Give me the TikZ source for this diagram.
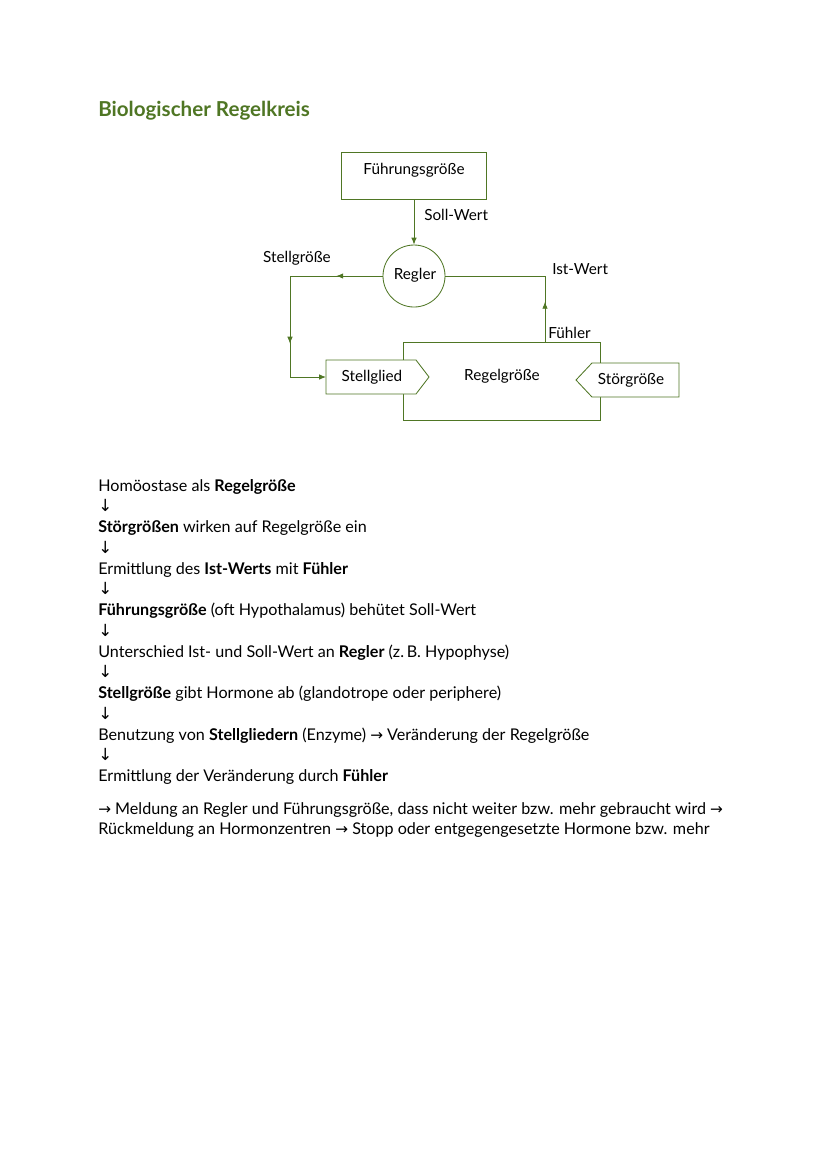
\documentclass[tikz,border=0pt]{standalone}
\usepackage{fontspec}
\setmainfont{Lato}
\newfontfamily\symfont{DejaVu Sans}
\usetikzlibrary{arrows.meta}
\usetikzlibrary{decorations.markings}
\definecolor{moosgruen}{RGB}{79,118,36}
\newcommand{\pxl}{0.71894pt}
\newcommand{\runter}{{\symfont\fontsize{12}{14}\selectfont ↓}}
\newcommand{\nach}{{\symfont\fontsize{11}{13}\selectfont →}}
\tikzset{
  line/.style={draw=moosgruen, line width=0.6pt},
  pfeil/.style={line, -{Latex[length=5pt,width=4pt]}, color=moosgruen},
  midpfeil/.style={line, color=moosgruen, postaction={decorate},
    decoration={markings, mark=at position #1 with {\arrow{Latex[length=5pt,width=4pt]}}}},
  kasten/.style={line, fill=white, inner sep=0pt},
  beschr/.style={inner sep=0pt, font=\fontsize{11}{13}\selectfont},
  zeile/.style={anchor=base west, inner sep=0pt, font=\fontsize{11.6}{14}\selectfont}
}
\begin{document}
\begin{tikzpicture}[x=\pxl, y=-\pxl]
  \useasboundingbox (0,0) rectangle (828,1171);
  % Titel
  \node[anchor=base west, inner sep=0pt, text=moosgruen,
    font=\fontsize{14.8}{17}\selectfont\bfseries] (titel) at (98,116)
    {Biologischer Regelkreis};

  % Kaesten
  \node[kasten, draw, minimum width=145*\pxl, minimum height=47*\pxl] (fuehrung) at (414,175.5) {};
  \node[beschr] (fuehrungtext) at (414,170) {Führungsgröße};
  \node[kasten, draw, circle, minimum size=62*\pxl] (regler) at (414,276) {};
  \node[beschr] (reglertext) at (415,275) {Regler};
  \node[kasten, draw, minimum width=197*\pxl, minimum height=78*\pxl] (regelgroesse) at (502,381.5) {};
  \node[beschr] (regeltext) at (502,376) {Regelgröße};

  % Stellglied und Stoergroesse
  \draw[kasten] (326,360) -- (416,360) -- (429,377) -- (416,394) -- (326,394) -- cycle;
  \coordinate (stellglied-in) at (326,377);
  \node[beschr] (stellglied) at (372,377) {Stellglied};
  \draw[kasten] (679,363) -- (592,363) -- (576,380) -- (592,397) -- (679,397) -- cycle;
  \node[beschr] (stoergroesse) at (631,380) {Störgröße};

  % Verbindungen
  \coordinate (ecke-links) at (290,276);
  \coordinate (ecke-rechts) at (545,276);
  \draw[pfeil] (fuehrung.south) -- (regler.north);
  \draw[midpfeil=0.5] (regler.west) -- (ecke-links);
  \draw[midpfeil=0.67] (ecke-links) -- (ecke-links |- stellglied-in);
  \draw[pfeil] (ecke-links |- stellglied-in) -- (stellglied-in);
  \draw[midpfeil=0.61] (ecke-rechts |- regelgroesse.north) -- (ecke-rechts);
  \draw[line] (ecke-rechts) -- (regler.east);

  % Beschriftungen
  \node[beschr, anchor=west] (sollwert) at (424,215) {Soll-Wert};
  \node[beschr] (stellgroesse) at (297,258) {Stellgröße};
  \node[beschr, anchor=west] (istwert) at (552,269) {Ist-Wert};
  \node[beschr, anchor=west] (fuehler) at (548,333) {Fühler};

  % Text
  \node[zeile] (z1) at (98,491) {Homöostase als \textbf{Regelgröße}};
  \node[zeile] (p1) at (98,511.75) {\runter};
  \node[zeile] (z2) at (98,532.5) {\textbf{Störgrößen} wirken auf Regelgröße ein};
  \node[zeile] (p2) at (98,553.25) {\runter};
  \node[zeile] (z3) at (98,574) {Ermittlung des \textbf{Ist-Werts} mit \textbf{Fühler}};
  \node[zeile] (p3) at (98,594.75) {\runter};
  \node[zeile] (z4) at (98,615.5) {\textbf{Führungsgröße} (oft Hypothalamus) behütet Soll-Wert};
  \node[zeile] (p4) at (98,636.25) {\runter};
  \node[zeile] (z5) at (98,657) {Unterschied Ist- und Soll-Wert an \textbf{Regler} (z.\,B. Hypophyse)};
  \node[zeile] (p5) at (98,677.75) {\runter};
  \node[zeile] (z6) at (98,698.5) {\textbf{Stellgröße} gibt Hormone ab (glandotrope oder periphere)};
  \node[zeile] (p6) at (98,719.25) {\runter};
  \node[zeile] (z7) at (98,740) {Benutzung von \textbf{Stellgliedern} (Enzyme) \nach{} Veränderung der Regelgröße};
  \node[zeile] (p7) at (98,760.75) {\runter};
  \node[zeile] (z8) at (98,781.5) {Ermittlung der Veränderung durch \textbf{Fühler}};
  \node[zeile] (z9) at (98,814) {\nach{} Meldung an Regler und Führungsgröße, dass nicht weiter bzw. mehr gebraucht wird \nach};
  \node[zeile] (z10) at (98,834.5) {Rückmeldung an Hormonzentren \nach{} Stopp oder entgegengesetzte Hormone bzw. mehr};
\end{tikzpicture}
\end{document}
